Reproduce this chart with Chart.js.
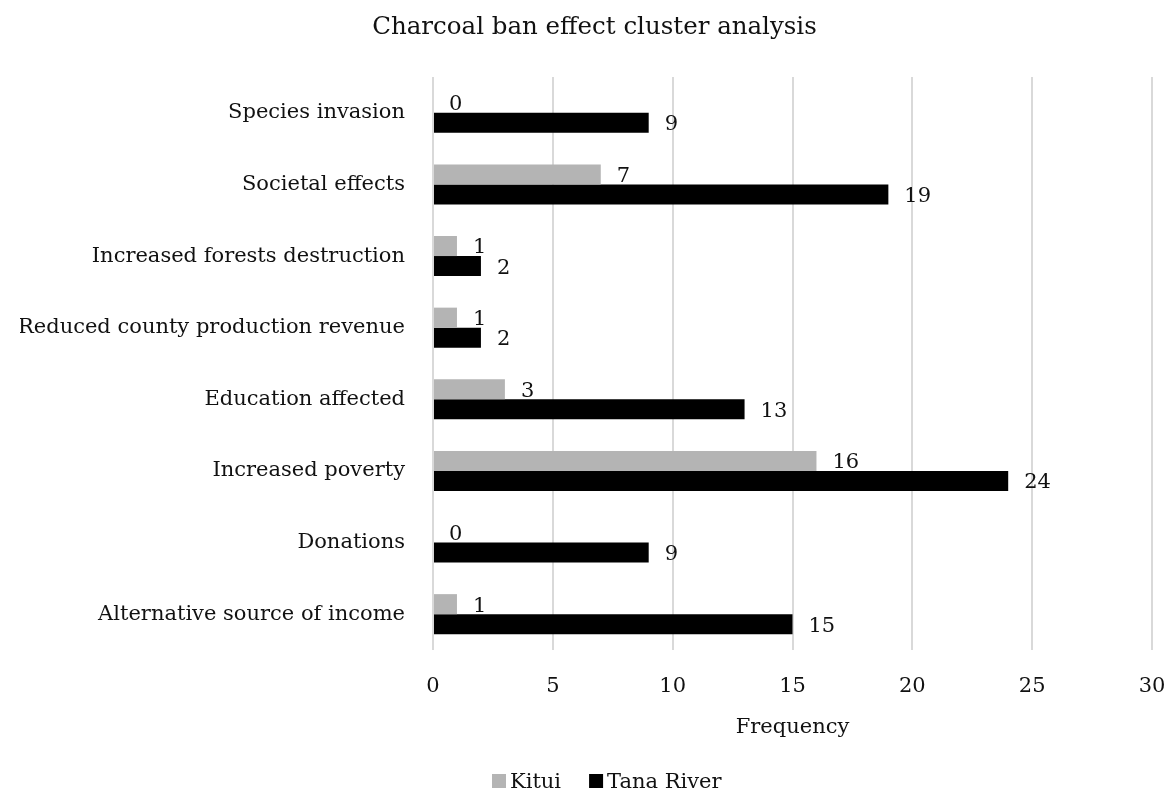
<!DOCTYPE html>
<html>
<head>
<meta charset="utf-8">
<title>Charcoal ban effect cluster analysis</title>
<script src="https://cdn.jsdelivr.net/npm/chart.js@4/dist/chart.umd.min.js"></script>
<style>
  html, body { margin: 0; padding: 0; background: #ffffff; }
  #wrap { width: 1169px; height: 792px; }
</style>
</head>
<body>
<div id="wrap"><canvas id="chart" width="1169" height="792"></canvas></div>
<script>
// Categories, top to bottom
const categories = [
  'Species invasion',
  'Societal effects',
  'Increased forests destruction',
  'Reduced county production revenue',
  'Education affected',
  'Increased poverty',
  'Donations',
  'Alternative source of income'
];
const kitui = [0, 7, 1, 1, 3, 16, 0, 1];
const tanaRiver = [9, 19, 2, 2, 13, 24, 9, 15];
const seriesNames = ['Kitui', 'Tana River'];
const xTicks = [0, 5, 10, 15, 20, 25, 30];

const FONT = '"DejaVu Serif", "Liberation Serif", serif';
const FONT_SIZE = 21;
const TEXT = '#111111';

// Value labels to the right of each bar end
const valueLabels = {
  id: 'valueLabels',
  afterDatasetsDraw(chart) {
    const ctx = chart.ctx;
    ctx.save();
    ctx.font = FONT_SIZE + 'px ' + FONT;
    ctx.fillStyle = TEXT;
    ctx.textAlign = 'left';
    ctx.textBaseline = 'middle';
    chart.data.datasets.forEach((ds, di) => {
      const meta = chart.getDatasetMeta(di);
      meta.data.forEach((bar, i) => {
        ctx.fillText(String(ds.data[i]), bar.x + 16, bar.y + 2);
      });
    });
    ctx.restore();
  }
};

// Legend row along the bottom edge
const bottomLegend = {
  id: 'bottomLegend',
  afterDraw(chart) {
    const ctx = chart.ctx;
    ctx.save();
    ctx.font = FONT_SIZE + 'px ' + FONT;
    ctx.textBaseline = 'alphabetic';
    ctx.textAlign = 'left';
    let x = 492;
    const baseline = 788;
    chart.data.datasets.forEach((ds) => {
      ctx.fillStyle = ds.backgroundColor;
      ctx.fillRect(x, baseline - 14, 14, 14);
      x += 18;
      ctx.fillStyle = TEXT;
      ctx.fillText(ds.label, x, baseline);
      x += ctx.measureText(ds.label).width + 28;
    });
    ctx.restore();
  }
};

new Chart(document.getElementById('chart'), {
  type: 'bar',
  data: {
    labels: categories,
    datasets: [
      {
        label: seriesNames[0],
        data: kitui,
        backgroundColor: '#b4b4b4',
        borderWidth: 0,
        categoryPercentage: 0.56,
        barPercentage: 1.0
      },
      {
        label: seriesNames[1],
        data: tanaRiver,
        backgroundColor: '#000000',
        borderWidth: 0,
        categoryPercentage: 0.56,
        barPercentage: 1.0
      }
    ]
  },
  options: {
    indexAxis: 'y',
    responsive: false,
    animation: false,
    devicePixelRatio: 1,
    layout: { padding: { left: 20, right: 0, top: 0, bottom: 50 } },
    plugins: {
      legend: { display: false },
      tooltip: { enabled: false },
      title: {
        display: true,
        text: 'Charcoal ban effect cluster analysis',
        color: TEXT,
        font: { family: FONT, size: 24.5, weight: 'normal', lineHeight: 1.2 },
        padding: { top: 13, bottom: 34.6 }
      }
    },
    scales: {
      x: {
        min: 0,
        max: 30,
        afterBuildTicks(scale) {
          scale.ticks = xTicks.map(v => ({ value: v }));
        },
        afterFit(scale) {
          scale.height = 92;
          scale.paddingLeft = 0;
          scale.paddingRight = 17;
        },
        grid: { color: '#d9d9d9', lineWidth: 2, drawTicks: false },
        border: { display: false },
        ticks: {
          color: TEXT,
          padding: 24,
          font: { family: FONT, size: FONT_SIZE }
        },
        title: {
          display: true,
          text: 'Frequency',
          color: TEXT,
          font: { family: FONT, size: FONT_SIZE, lineHeight: 1.2 },
          padding: { top: 0, bottom: 2 }
        }
      },
      y: {
        afterFit(scale) { scale.width = 413; },
        grid: { display: false, drawTicks: false },
        border: { display: false },
        ticks: {
          color: TEXT,
          padding: 28,
          font: { family: FONT, size: FONT_SIZE }
        }
      }
    }
  },
  plugins: [valueLabels, bottomLegend]
});
</script>
</body>
</html>
